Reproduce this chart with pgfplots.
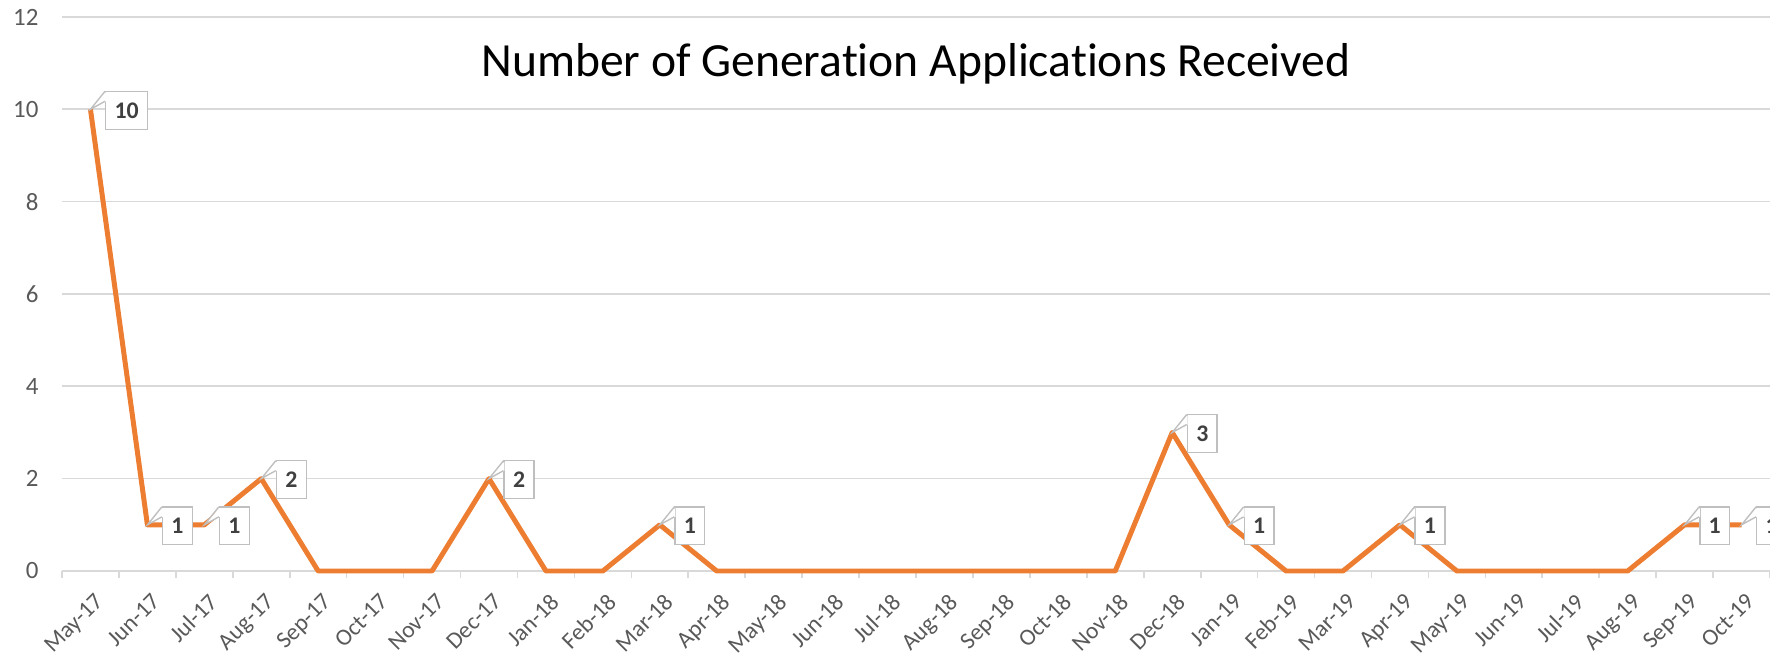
\documentclass[border=0pt]{standalone}
\usepackage{fontspec}
\setmainfont[Ligatures=NoCommon]{Carlito}
\usepackage{pgfplots}
\usepackage{pgfplotstable}
\pgfplotsset{compat=1.18}
\usetikzlibrary{calc}

\definecolor{lineorange}{RGB}{237,125,49}
\definecolor{gridgray}{RGB}{217,217,217}
\definecolor{ticktext}{RGB}{89,89,89}
\definecolor{lbltext}{RGB}{64,64,64}
\definecolor{boxgray}{RGB}{191,191,191}

% callout pointer from the data point to the label box
\pgfdeclareplotmark{calloutwedge}{%
  \pgfpathmoveto{\pgfpointorigin}%
  \pgfpathlineto{\pgfpoint{5.6pt}{6.2pt}}%
  \pgfpathlineto{\pgfpoint{5.6pt}{2.9pt}}%
  \pgfpathclose
  \pgfsetfillcolor{white}%
  \pgfusepath{fill}%
  \pgfpathmoveto{\pgfpoint{5.24pt}{6.49pt}}%
  \pgfpathlineto{\pgfpointorigin}%
  \pgfpathlineto{\pgfpoint{5.24pt}{2.89pt}}%
  \pgfsetstrokecolor{boxgray}%
  \pgfsetlinewidth{0.5pt}%
  \pgfusepath{stroke}%
}

% monthly counts, x = month index (0 = May-17)
\pgfplotstableread{
x  y
0  10
1  1
2  1
3  2
4  0
5  0
6  0
7  2
8  0
9  0
10 1
11 0
12 0
13 0
14 0
15 0
16 0
17 0
18 0
19 3
20 1
21 0
22 0
23 1
24 0
25 0
26 0
27 0
28 1
29 1
}\apps

\begin{document}
\begin{tikzpicture}
\begin{axis}[
    name=ax,
    scale only axis,
    width=617.2pt, height=200.2pt,
    xmin=-0.5, xmax=29.5,
    ymin=0, ymax=12,
    ytick={0,2,...,12},
    xtick={0,...,29},
    xticklabels={May-17,Jun-17,Jul-17,Aug-17,Sep-17,Oct-17,Nov-17,Dec-17,
        Jan-18,Feb-18,Mar-18,Apr-18,May-18,Jun-18,Jul-18,Aug-18,Sep-18,Oct-18,Nov-18,Dec-18,
        Jan-19,Feb-19,Mar-19,Apr-19,May-19,Jun-19,Jul-19,Aug-19,Sep-19,Oct-19},
    minor xtick={-0.5,0.5,...,29.5},
    tick align=outside,
    xtick pos=bottom,
    ytick pos=left,
    major tick length=0pt,
    major x tick style={draw=none},
    major y tick style={draw=none},
    minor x tick style={draw=gridgray, line width=0.6pt},
    minor tick length=2.6pt,
    axis line style={draw=none},
    ymajorgrids,
    grid style={draw=gridgray, line width=0.6pt},
    clip=false,
    /pgf/number format/assume math mode=true,
    ticklabel style={text=ticktext},
    yticklabel style={font=\fontsize{9}{10}\selectfont, anchor=east, inner sep=0pt, xshift=-8.3pt},
    xticklabel style={font=\fontsize{8.5}{10}\selectfont, inner sep=0pt,
        xshift=1.1pt, yshift=-7.4pt, rotate=45, anchor=north east},
    title={Number of Generation Applications Received},
    title style={at={(0.5,0.892)}, anchor=base, yshift=-6pt,
        font=\fontsize{17.2}{19}\selectfont, text=black},
]
\addplot[lineorange, line width=1.8pt, line join=round, mark=none] table[x=x, y=y] {\apps};
% data labels (boxes)
\addplot[draw=none, mark=none, restrict y to domain=0.5:100,
    nodes near coords,
    every node near coord/.style={anchor=west, xshift=5.24pt, yshift=-0.36pt,
        font=\bfseries\fontsize{8.6}{10}\selectfont, text=lbltext,
        draw=boxgray, line width=0.5pt, fill=white,
        inner xsep=3.2pt, inner ysep=0pt, minimum height=13.7pt},
] table[x=x, y=y] {\apps};
% callout pointers
\addplot[only marks, mark=calloutwedge, restrict y to domain=0.5:100]
    table[x=x, y=y] {\apps};
\end{axis}
\pgfresetboundingbox
\path[use as bounding box] ($(ax.south west)+(-22.4pt,-30.35pt)$) rectangle ($(ax.north east)+(0pt,6.14pt)$);
\end{tikzpicture}
\end{document}
